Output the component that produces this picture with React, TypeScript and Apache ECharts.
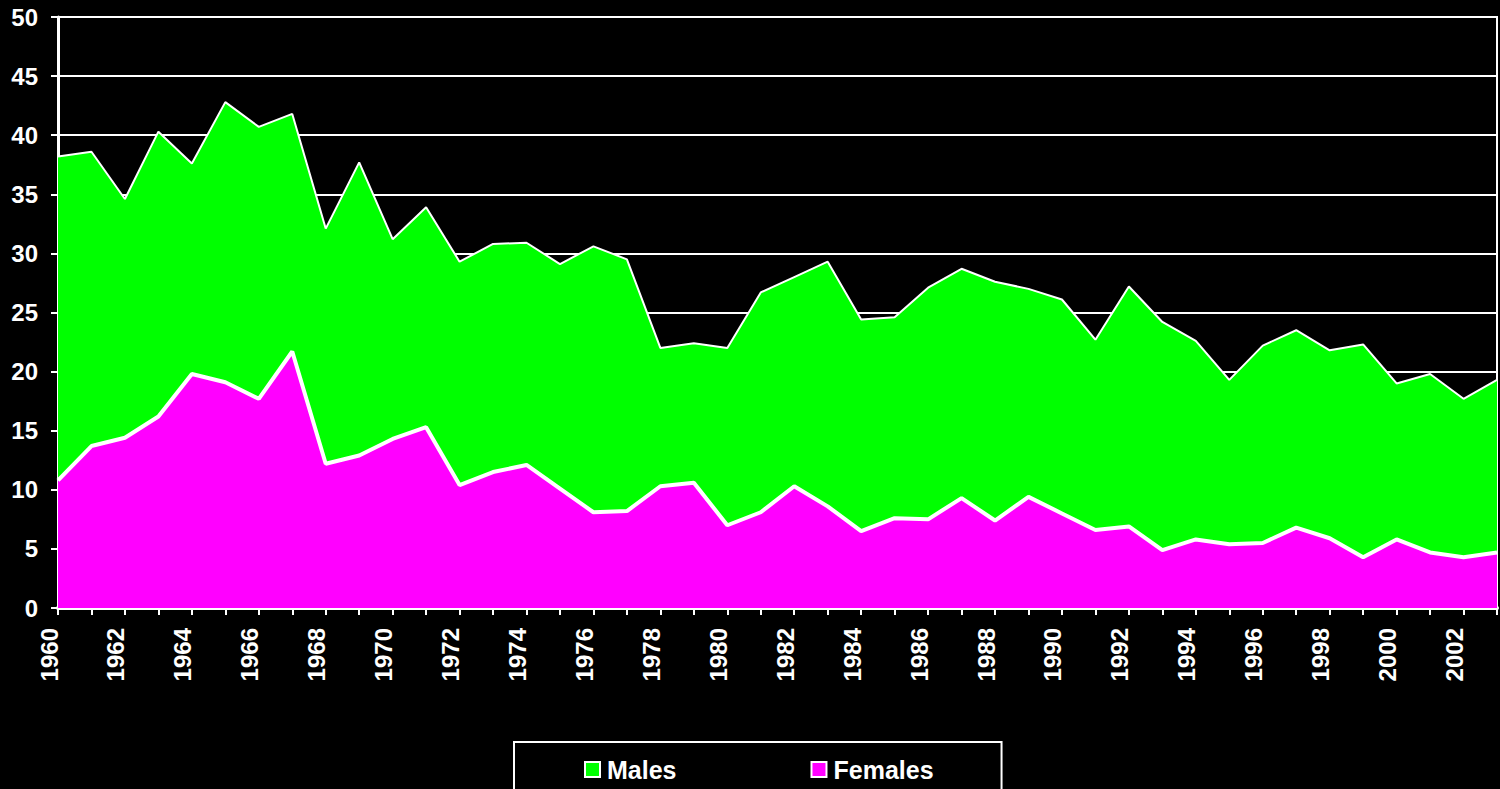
import React, { useEffect, useRef } from "react";
import * as echarts from "echarts";

const years: string[] = [
  "1960","1961","1962","1963","1964","1965","1966","1967","1968","1969",
  "1970","1971","1972","1973","1974","1975","1976","1977","1978","1979",
  "1980","1981","1982","1983","1984","1985","1986","1987","1988","1989",
  "1990","1991","1992","1993","1994","1995","1996","1997","1998","1999",
  "2000","2001","2002","2003",
];

const females: number[] = [
  10.8, 13.7, 14.4, 16.2, 19.8, 19.1, 17.7, 21.7, 12.2, 12.9,
  14.3, 15.3, 10.4, 11.5, 12.1, 10.1, 8.1, 8.2, 10.3, 10.6,
  7.0, 8.1, 10.3, 8.6, 6.5, 7.6, 7.5, 9.3, 7.4, 9.4,
  8.0, 6.6, 6.9, 4.9, 5.8, 5.4, 5.5, 6.8, 5.9, 4.3,
  5.8, 4.7, 4.3, 4.7,
];

const males: number[] = [
  27.4, 24.9, 20.2, 24.1, 17.8, 23.7, 23.0, 20.1, 19.9, 24.8,
  16.9, 18.6, 18.9, 19.3, 18.8, 19.0, 22.5, 21.3, 11.7, 11.8,
  15.0, 18.6, 17.7, 20.7, 17.9, 17.0, 19.6, 19.4, 20.2, 17.6,
  18.1, 16.1, 20.3, 19.3, 16.8, 13.9, 16.7, 16.7, 15.9, 18.0,
  13.2, 15.1, 13.4, 14.6,
];

const FONT = "'Liberation Sans', Arial, sans-serif";

export default function App() {
  const ref = useRef<HTMLDivElement>(null);
  useEffect(() => {
    document.body.style.margin = "0";
    document.body.style.background = "#000";
    const chart = echarts.init(ref.current!, null, { renderer: "svg" });
    chart.setOption({
      animation: false,
      backgroundColor: "#000000",
      grid: {
        left: 58,
        right: 3,
        top: 17,
        bottom: 181,
        show: true,
        borderColor: "#ffffff",
        borderWidth: 2,
        backgroundColor: "#000000",
      },
      legend: {
        data: ["Males", "Females"],
        left: 514,
        top: 742,
        padding: [15, 68, 30, 70],
        itemGap: 134,
        itemWidth: 15,
        itemHeight: 15,
        icon: "rect",
        borderColor: "#ffffff",
        borderWidth: 2,
        backgroundColor: "#000000",
        itemStyle: { borderColor: "#ffffff", borderWidth: 2 },
        textStyle: {
          color: "#ffffff",
          fontFamily: FONT,
          fontWeight: "bold",
          fontSize: 25,
          padding: [0, 0, 0, 2],
        },
      },
      xAxis: {
        type: "category",
        data: years,
        boundaryGap: false,
        axisLine: { show: true, lineStyle: { color: "#ffffff", width: 4 } },
        axisTick: {
          show: true,
          interval: 0,
          length: 7,
          lineStyle: { color: "#ffffff", width: 2 },
        },
        axisLabel: {
          interval: 1,
          rotate: 90,
          margin: 20,
          verticalAlign: "bottom",
          lineHeight: 18,
          color: "#ffffff",
          fontFamily: FONT,
          fontWeight: "bold",
          fontSize: 24,
        },
        splitLine: { show: false },
      },
      yAxis: {
        type: "value",
        min: 0,
        max: 50,
        interval: 5,
        axisLine: { show: true, lineStyle: { color: "#ffffff", width: 3 } },
        axisTick: { show: true, length: 7, lineStyle: { color: "#ffffff", width: 2 } },
        axisLabel: {
          color: "#ffffff",
          fontFamily: FONT,
          fontWeight: "bold",
          fontSize: 24,
          margin: 20,
        },
        splitLine: { show: true, lineStyle: { color: "#ffffff", width: 2 } },
      },
      series: [
        {
          name: "Females",
          type: "line",
          stack: "total",
          data: females,
          symbol: "none",
          z: 3,
          color: "#ff00ff",
          lineStyle: { color: "#ffffff", width: 4 },
          areaStyle: { color: "#ff00ff", opacity: 1 },
          itemStyle: { color: "#ff00ff" },
        },
        {
          name: "Males",
          type: "line",
          stack: "total",
          data: males,
          symbol: "none",
          z: 2,
          color: "#00ff00",
          lineStyle: { color: "#ffffff", width: 2 },
          areaStyle: { color: "#00ff00", opacity: 1 },
          itemStyle: { color: "#00ff00" },
        },
      ],
    });
    return () => chart.dispose();
  }, []);
  return <div ref={ref} style={{ width: 1500, height: 789 }} />;
}
